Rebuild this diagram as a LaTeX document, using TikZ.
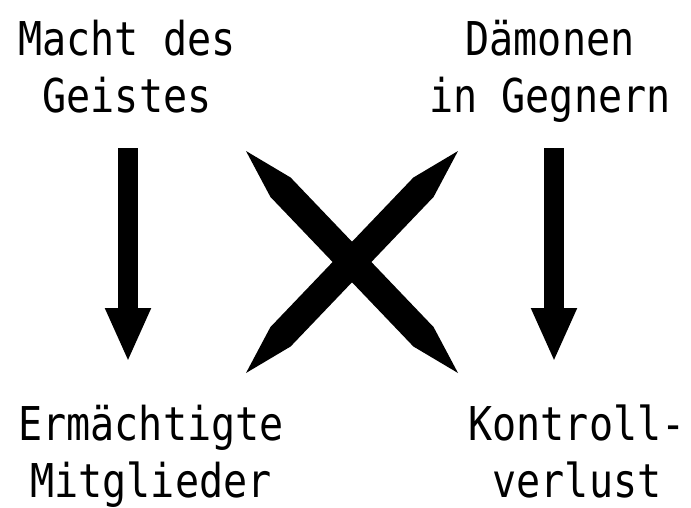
\documentclass[tikz,border=0pt]{standalone}
\usepackage{fontspec}
\setmonofont[FakeStretch=0.86]{DejaVu Sans Mono}
\usetikzlibrary{arrows.meta}
\newcommand\twoline[2]{\vtop{\baselineskip=57pt\halign{\hfil##\hfil\cr #1\cr #2\cr}}}
\begin{document}
\begin{tikzpicture}[x=1pt,y=-1pt,
  lbl/.style={inner sep=0pt,anchor=base,font=\ttfamily\fontsize{46.6}{57}\selectfont},
  downarrow/.style={line width=20pt,line cap=butt,-{Triangle[width=42pt,length=54pt]}},
  bar/.style={fill=black,draw=none}]
\useasboundingbox (0,0) rectangle (691,507);
\node[lbl] (macht) at (127,55) {\twoline{Macht des}{Geistes}};
\node[lbl] (daemon) at (550,55) {\twoline{Dämonen}{in Gegnern}};
\node[lbl] (erm) at (151,440) {\twoline{Ermächtigte}{Mitglieder}};
\node[lbl] (kontr) at (577,440) {\twoline{Kontroll-}{verlust}};
% vertical arrows
\coordinate (l1) at (128,148);
\coordinate (l2) at (128,362);
\coordinate (r1) at (554,148);
\coordinate (r2) at (554,362);
\draw[downarrow] (l1) -- (l2);
\draw[downarrow] (r1) -- (r2);
% crossing spears
\coordinate (xa) at (246,151);
\coordinate (xb) at (458,373);
\coordinate (xc) at (458,151);
\coordinate (xd) at (246,373);
\fill[bar] (xa) -- (290.6,177.5) -- (433.6,327.1) -- (xb) -- (413.4,346.5) -- (270.4,196.9) -- cycle;
\fill[bar] (xc) -- (433.6,196.9) -- (290.6,346.5) -- (xd) -- (270.4,327.1) -- (413.4,177.5) -- cycle;
\end{tikzpicture}
\end{document}
